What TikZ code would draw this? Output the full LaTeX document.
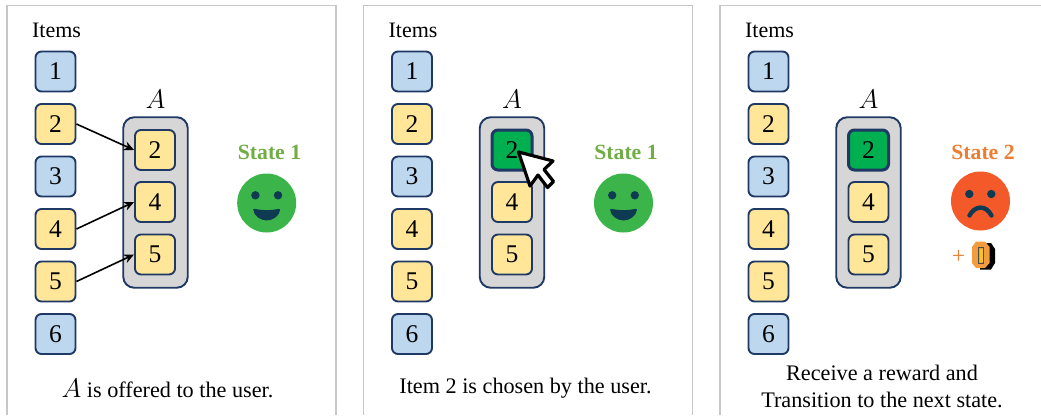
\documentclass[tikz,border=0pt]{standalone}
\usepackage{graphicx}
\usepackage{fontspec}
\setmainfont{Liberation Serif}
\usetikzlibrary{arrows.meta}
\definecolor{navy}{HTML}{1F3864}
\definecolor{itemblue}{HTML}{BDD7EE}
\definecolor{itemyellow}{HTML}{FFE699}
\definecolor{chosen}{HTML}{00B050}
\definecolor{stategreen}{HTML}{70AD47}
\definecolor{stateorange}{HTML}{ED7D31}
\definecolor{happy}{HTML}{3BB54A}
\definecolor{sad}{HTML}{F4592A}
\definecolor{facedark}{HTML}{0E3A52}
\definecolor{coinorange}{HTML}{F39C3D}
\newcommand{\setA}{\scalebox{1.3}{$A$}}
\tikzset{x=1pt,y=-1pt,
  panel/.style={draw=black!22,line width=1.4pt},
  itembox/.style={draw=navy,line width=1.9pt,rounded corners=6pt,minimum width=40pt,minimum height=40pt,inner sep=0pt,font=\fontsize{25.5}{27}\selectfont,text=black},
  bluebox/.style={itembox,fill=itemblue},
  yellowbox/.style={itembox,fill=itemyellow},
  chosenbox/.style={itembox,fill=chosen,line width=3pt},
  setbox/.style={draw=navy,line width=1.9pt,rounded corners=11pt,fill=black!16,minimum width=64.5pt,minimum height=170.5pt,inner sep=0pt},
  lbl/.style={font=\fontsize{22}{24}\selectfont,inner sep=0pt,text=black},
  caption/.style={font=\fontsize{22.2}{28}\selectfont,inner sep=0pt,align=center,text=black},
  statelbl/.style={font=\fontsize{21.7}{24}\selectfont\bfseries,inner sep=0pt},
  offer/.style={draw=black,line width=1.6pt,-{Stealth[length=10pt,width=9pt]}},
  face/.style={circle,minimum size=59pt,inner sep=0pt}
}
\newcommand{\itemcolumn}[2]{%
  \node[bluebox]   (#1i1) at (#2,71.5) {1};
  \node[yellowbox] (#1i2) at (#2,124) {2};
  \node[bluebox]   (#1i3) at (#2,176.5) {3};
  \node[yellowbox] (#1i4) at (#2,229) {4};
  \node[yellowbox] (#1i5) at (#2,281.5) {5};
  \node[bluebox]   (#1i6) at (#2,334) {6};
  \node[lbl] (#1items) at (#2+1,30) {Items};
}
\newcommand{\happyface}[3]{%
  \node[face,fill=happy] (#1) at (#2,#3) {};
  \fill[facedark] (#2-11.3,#3-7.7) circle (4.2pt) (#2+11.3,#3-7.7) circle (4.2pt);
  \fill[facedark] (#2-13.5,#3+6.5) .. controls (#2-13.5,#3+5.5) and (#2-13,#3+5.5) .. (#2-12,#3+5.8) .. controls (#2-5,#3+7.5) and (#2+5,#3+7.5) .. (#2+12,#3+5.8) .. controls (#2+13,#3+5.5) and (#2+13.5,#3+5.5) .. (#2+13.5,#3+6.5) .. controls (#2+13,#3+13) and (#2+6,#3+17.5) .. (#2,#3+17.5) .. controls (#2-6,#3+17.5) and (#2-13,#3+13) .. (#2-13.5,#3+6.5) -- cycle;
}
\begin{document}
\begin{tikzpicture}
\useasboundingbox (0,0) rectangle (1041,415);
\fill[white] (0,0) rectangle (1041,415);
% panel frames
\coordinate (p1a) at (7,415); \coordinate (p1b) at (7,5.5); \coordinate (p1c) at (336,5.5); \coordinate (p1d) at (336,415);
\draw[panel] (p1a) -- (p1b) -- (p1c) -- (p1d);
\coordinate (p2a) at (363.5,415); \coordinate (p2b) at (363.5,5.5); \coordinate (p2c) at (692.5,5.5); \coordinate (p2d) at (692.5,415);
\draw[panel] (p2a) -- (p2b) -- (p2c) -- (p2d);
\coordinate (p3a) at (720,415); \coordinate (p3b) at (720,5.5); \coordinate (p3c) at (1041,5.5);
\draw[panel] (p3a) -- (p3b) -- (p3c);
% panel 1
\itemcolumn{a}{55.5}
\node[setbox] (aset) at (155.5,202.5) {};
\node[lbl] (asetl) at (155.5,99) {\setA};
\node[yellowbox] (as2) at (155,150) {2};
\node[yellowbox] (as4) at (155,202) {4};
\node[yellowbox] (as5) at (155,254.5) {5};
\draw[offer] (ai2.east) -- (as2.west);
\draw[offer] (ai4.east) -- (as4.west);
\draw[offer] (ai5.east) -- (as5.west);
\node[statelbl,text=stategreen] (astate) at (269.5,152) {State 1};
\happyface{aface}{266.7}{203}
\node[caption] (acap) at (167.5,388) {\setA{} is offered to the user.};
% panel 2
\itemcolumn{b}{412}
\node[setbox] (bset) at (512,202.5) {};
\node[lbl] (bsetl) at (512,99) {\setA};
\node[chosenbox] (bs2) at (512,150) {2};
\node[yellowbox] (bs4) at (512,202) {4};
\node[yellowbox] (bs5) at (512,254.5) {5};
\node[statelbl,text=stategreen] (bstate) at (626,152) {State 1};
\happyface{bface}{623.5}{203}
\node[caption] (bcap) at (525.5,388) {Item 2 is chosen by the user.};
% cursor
\draw[fill=white,draw=black,line width=3.2pt,line join=round]
  (518.5,152) -- (530,186) -- (538,175) -- (547.5,187.5) -- (553.5,181.5) -- (544,169.5) -- (553,161) -- cycle;
% panel 3
\itemcolumn{c}{768.5}
\node[setbox] (cset) at (868.5,202.5) {};
\node[lbl] (csetl) at (868.5,99) {\setA};
\node[chosenbox] (cs2) at (868.5,150) {2};
\node[yellowbox] (cs4) at (868.5,202) {4};
\node[yellowbox] (cs5) at (868.5,254.5) {5};
\node[statelbl,text=stateorange] (cstate) at (983,152) {State 2};
\node[face,fill=sad] (cface) at (980.5,201) {};
\fill[facedark] (969.3,194) circle (4.2pt) (991.3,194) circle (4.2pt);
\draw[facedark,line width=4.4pt,line cap=round] (969.5,215.5) .. controls (975,205) and (986,205) .. (991.5,215.5);
\node[font=\fontsize{23}{24}\selectfont,text=stateorange,inner sep=0pt] (cplus) at (958.5,256.5) {+};
% coin
\fill[black] (980,243) -- (991,243) -- (995,249) -- (995,263) -- (991,269.5) -- (980,269.5) -- cycle;
\fill[coinorange] (976,241.5) -- (985,241.5) -- (989.5,247) -- (989.5,263) -- (985,268) -- (976,268) -- (972,263) -- (972,247) -- cycle;
\draw[black!70,line width=1pt] (978.5,247.5) rectangle (983.5,263);
\fill[coinorange!60!yellow] (979.5,248.5) rectangle (982.5,262);
\node[caption] (ccap) at (882,400) {Transition to the next state.};
\node[caption] (ccap2) at (882,372.5) {Receive a reward and};
\end{tikzpicture}
\end{document}
